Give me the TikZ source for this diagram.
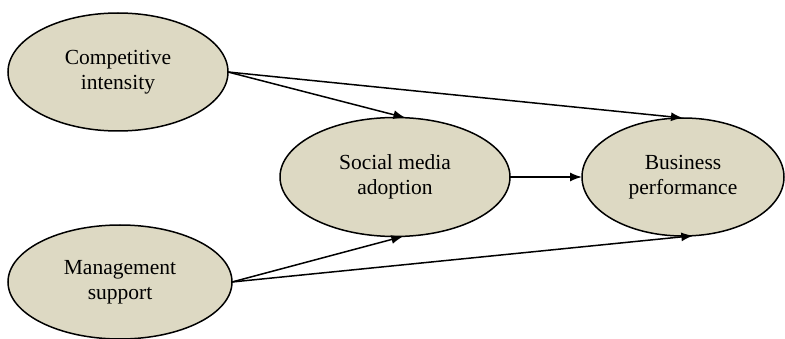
\documentclass[tikz,border=0pt]{standalone}
\usepackage{fontspec}
\setmainfont{Liberation Serif}
\usetikzlibrary{shapes.geometric,arrows.meta}
\definecolor{bubble}{HTML}{DDD9C3}
\begin{document}
\begin{tikzpicture}[x=1pt,y=-1pt,
  var/.style={ellipse,draw=black,line width=1.5pt,fill=bubble,inner sep=0pt,outer sep=0pt,
    align=center,font=\fontsize{21.5}{24.5}\selectfont},
  link/.style={line width=1.5pt,-{Latex[length=12pt,width=9pt]}}]
\useasboundingbox (0,0) rectangle (785,339);
\node[var,minimum width=220pt,minimum height=118pt] (CI) at (118,72) {Competitive\\intensity};
\node[var,minimum width=224pt,minimum height=114pt] (MS) at (120,282) {Management\\support};
\node[var,minimum width=230pt,minimum height=119pt] (SMA) at (395,177) {Social media\\adoption};
\node[var,minimum width=202pt,minimum height=118pt] (BP) at (683,177) {Business\\performance};
\draw[link] (CI.east) -- (SMA.80.5);
\draw[link] (CI.east) -- (BP.north);
\draw[link] (SMA.east) -- (BP.west);
\draw[link] (MS.east) -- (SMA.-82);
\draw[link] (MS.east) -- (BP.-80);
\end{tikzpicture}
\end{document}
